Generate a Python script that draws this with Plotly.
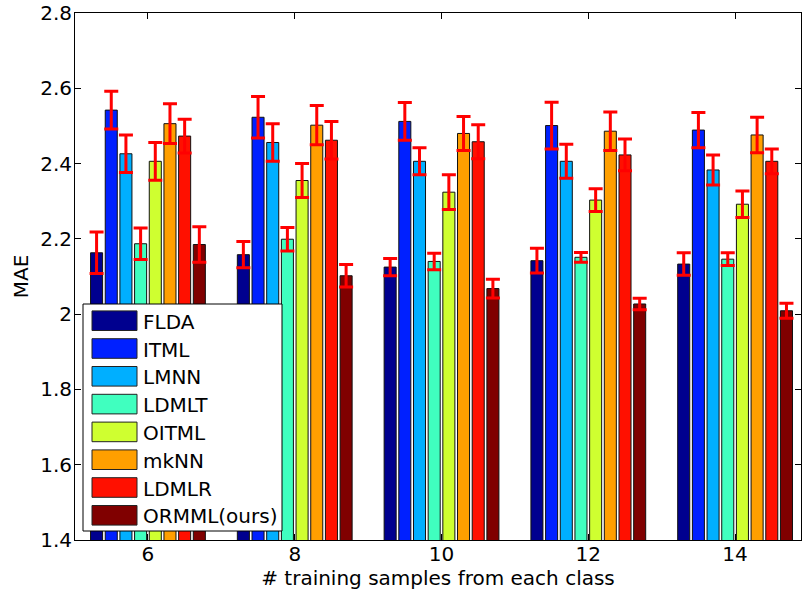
import plotly.graph_objects as go

# ---------------- data ----------------
groups = ["6", "8", "10", "12", "14"]
methods = ["FLDA", "ITML", "LMNN", "LDMLT", "OITML", "mkNN", "LDMLR", "ORMML(ours)"]

flda = [2.163, 2.158, 2.125, 2.142, 2.133]
itml = [2.542, 2.523, 2.512, 2.501, 2.489]
lmnn = [2.426, 2.456, 2.406, 2.406, 2.383]
ldmlt = [2.187, 2.199, 2.140, 2.151, 2.146]
oitml = [2.406, 2.355, 2.324, 2.303, 2.292]
mknn = [2.506, 2.502, 2.480, 2.486, 2.476]
ldmlr = [2.473, 2.462, 2.458, 2.423, 2.406]
ormml = [2.185, 2.102, 2.068, 2.027, 2.009]

flda_err = [0.055, 0.035, 0.023, 0.033, 0.030]
itml_err = [0.050, 0.055, 0.050, 0.062, 0.047]
lmnn_err = [0.050, 0.050, 0.036, 0.045, 0.040]
ldmlt_err = [0.042, 0.031, 0.022, 0.013, 0.017]
oitml_err = [0.050, 0.045, 0.046, 0.030, 0.035]
mknn_err = [0.053, 0.052, 0.045, 0.051, 0.047]
ldmlr_err = [0.045, 0.050, 0.045, 0.042, 0.033]
ormml_err = [0.047, 0.030, 0.025, 0.015, 0.020]

y_tickvals = [1.4, 1.6, 1.8, 2.0, 2.2, 2.4, 2.6, 2.8]
y_ticktext = ["1.4", "1.6", "1.8", "2", "2.2", "2.4", "2.6", "2.8"]

colors = ["#00008F", "#0020FF", "#00AFFF", "#40FFBF",
          "#CFFF30", "#FF9F00", "#FF1000", "#800000"]

series = [flda, itml, lmnn, ldmlt, oitml, mknn, ldmlr, ormml]
errors = [flda_err, itml_err, lmnn_err, ldmlt_err, oitml_err, mknn_err, ldmlr_err, ormml_err]

FONT = "DejaVu Sans, Liberation Sans, Arial, sans-serif"

fig = go.Figure()
for name, vals, errs, col in zip(methods, series, errors, colors):
    fig.add_trace(go.Bar(
        x=groups, y=vals, name=name,
        marker=dict(color=col, line=dict(color="#111111", width=1)),
        error_y=dict(type="data", array=errs, visible=True,
                     color="#FF0000", thickness=3, width=7),
        showlegend=False,
    ))

W, H = 802, 595
L, R, T, B = 75, 1, 13, 55
pw, ph = W - L - R, H - T - B

def px(x):
    return (x - L) / pw

def py(y):
    return (H - B - y) / ph

shapes = []
annotations = []
# legend box
shapes.append(dict(type="rect", xref="paper", yref="paper",
                   x0=px(83), x1=px(282), y0=py(531), y1=py(304),
                   fillcolor="white", line=dict(color="black", width=1), layer="above"))
for i, (name, col) in enumerate(zip(methods, colors)):
    cy = 320.7 + i * 27.8
    shapes.append(dict(type="rect", xref="paper", yref="paper",
                       x0=px(92), x1=px(137), y0=py(cy + 9.8), y1=py(cy - 9.8),
                       fillcolor=col, line=dict(color="#222222", width=1), layer="above"))
    annotations.append(dict(xref="paper", yref="paper", x=px(141), y=py(cy + 1),
                            text=name, showarrow=False, xanchor="left", yanchor="middle",
                            font=dict(family=FONT, size=20, color="black")))

fig.update_layout(
    width=W, height=H,
    margin=dict(l=L, r=R, t=T, b=B, pad=0),
    paper_bgcolor="white", plot_bgcolor="white",
    barmode="group", bargap=0.2, bargroupgap=0.18,
    font=dict(family=FONT, size=20, color="black"),
    shapes=shapes, annotations=annotations,
    xaxis=dict(
        type="category", range=[-0.497, 4.449],
        showline=True, linecolor="black", linewidth=1, mirror="ticks",
        ticks="inside", ticklen=6, tickcolor="black", showgrid=False,
        tickfont=dict(family=FONT, size=20), ticklabelstandoff=-4,
        title=dict(text="# training samples from each class", standoff=5,
                   font=dict(family=FONT, size=20)),
        automargin=False,
    ),
    yaxis=dict(
        range=[1.4, 2.8], tickvals=y_tickvals, ticktext=y_ticktext,
        showline=True, linecolor="black", linewidth=1, mirror="ticks",
        ticks="inside", ticklen=6, tickcolor="black", showgrid=False, zeroline=False,
        tickfont=dict(family=FONT, size=20), ticklabelstandoff=-2,
        ticklabeloverflow="allow",
        title=dict(text="MAE", standoff=6, font=dict(family=FONT, size=20)),
        automargin=False,
    ),
)

fig.write_html("out.html")
